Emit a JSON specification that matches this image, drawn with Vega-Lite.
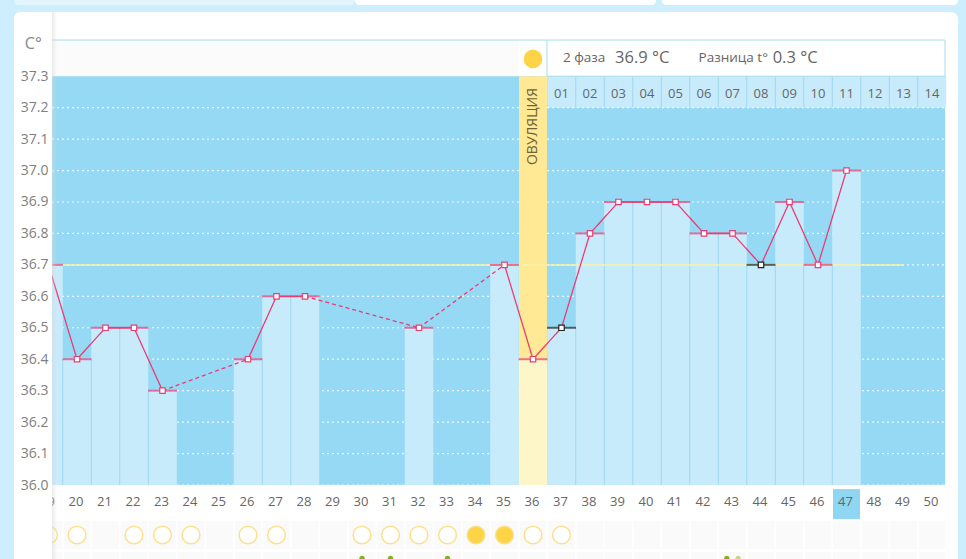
{
  "$schema": "https://vega.github.io/schema/vega-lite/v6.json",
  "width": 966,
  "height": 559,
  "padding": 0,
  "autosize": "none",
  "background": "#cdeefc",
  "config": {"view": {"stroke": null}, "font": "Open Sans"},
  "resolve": {"scale": {"color": "independent"}},
  "datasets": {
    "temps": [
      {"day": 19, "temp": 36.7, "kind": "normal"},
      {"day": 20, "temp": 36.4, "kind": "normal"},
      {"day": 21, "temp": 36.5, "kind": "normal"},
      {"day": 22, "temp": 36.5, "kind": "normal"},
      {"day": 23, "temp": 36.3, "kind": "normal"},
      {"day": 26, "temp": 36.4, "kind": "normal"},
      {"day": 27, "temp": 36.6, "kind": "normal"},
      {"day": 28, "temp": 36.6, "kind": "normal"},
      {"day": 32, "temp": 36.5, "kind": "normal"},
      {"day": 35, "temp": 36.7, "kind": "normal"},
      {"day": 36, "temp": 36.4, "kind": "normal"},
      {"day": 37, "temp": 36.5, "kind": "marked"},
      {"day": 38, "temp": 36.8, "kind": "normal"},
      {"day": 39, "temp": 36.9, "kind": "normal"},
      {"day": 40, "temp": 36.9, "kind": "normal"},
      {"day": 41, "temp": 36.9, "kind": "normal"},
      {"day": 42, "temp": 36.8, "kind": "normal"},
      {"day": 43, "temp": 36.8, "kind": "normal"},
      {"day": 44, "temp": 36.7, "kind": "marked"},
      {"day": 45, "temp": 36.9, "kind": "normal"},
      {"day": 46, "temp": 36.7, "kind": "normal"},
      {"day": 47, "temp": 37.0, "kind": "normal"}
    ],
    "segments": [
      {"seg": "a", "style": "solid", "day": 19, "temp": 36.7},
      {"seg": "a", "style": "solid", "day": 20, "temp": 36.4},
      {"seg": "a", "style": "solid", "day": 21, "temp": 36.5},
      {"seg": "a", "style": "solid", "day": 22, "temp": 36.5},
      {"seg": "a", "style": "solid", "day": 23, "temp": 36.3},
      {"seg": "b", "style": "dashed", "day": 23, "temp": 36.3},
      {"seg": "b", "style": "dashed", "day": 26, "temp": 36.4},
      {"seg": "c", "style": "solid", "day": 26, "temp": 36.4},
      {"seg": "c", "style": "solid", "day": 27, "temp": 36.6},
      {"seg": "c", "style": "solid", "day": 28, "temp": 36.6},
      {"seg": "d", "style": "dashed", "day": 28, "temp": 36.6},
      {"seg": "d", "style": "dashed", "day": 32, "temp": 36.5},
      {"seg": "e", "style": "dashed", "day": 32, "temp": 36.5},
      {"seg": "e", "style": "dashed", "day": 35, "temp": 36.7},
      {"seg": "f", "style": "solid", "day": 35, "temp": 36.7},
      {"seg": "f", "style": "solid", "day": 36, "temp": 36.4},
      {"seg": "f", "style": "solid", "day": 37, "temp": 36.5},
      {"seg": "f", "style": "solid", "day": 38, "temp": 36.8},
      {"seg": "f", "style": "solid", "day": 39, "temp": 36.9},
      {"seg": "f", "style": "solid", "day": 40, "temp": 36.9},
      {"seg": "f", "style": "solid", "day": 41, "temp": 36.9},
      {"seg": "f", "style": "solid", "day": 42, "temp": 36.8},
      {"seg": "f", "style": "solid", "day": 43, "temp": 36.8},
      {"seg": "f", "style": "solid", "day": 44, "temp": 36.7},
      {"seg": "f", "style": "solid", "day": 45, "temp": 36.9},
      {"seg": "f", "style": "solid", "day": 46, "temp": 36.7},
      {"seg": "f", "style": "solid", "day": 47, "temp": 37.0}
    ],
    "edges": [
      {"edge": 19.5, "top": 36.4}, {"edge": 20.5, "top": 36.4}, {"edge": 21.5, "top": 36.5},
      {"edge": 22.5, "top": 36.3}, {"edge": 26.5, "top": 36.4}, {"edge": 27.5, "top": 36.6},
      {"edge": 37.5, "top": 36.5}, {"edge": 38.5, "top": 36.8}, {"edge": 39.5, "top": 36.9},
      {"edge": 40.5, "top": 36.9}, {"edge": 41.5, "top": 36.8}, {"edge": 42.5, "top": 36.8},
      {"edge": 43.5, "top": 36.7}, {"edge": 44.5, "top": 36.7}, {"edge": 45.5, "top": 36.7},
      {"edge": 46.5, "top": 36.7}
    ],
    "phase2": [
      {"day": 37, "label": "01"}, {"day": 38, "label": "02"}, {"day": 39, "label": "03"},
      {"day": 40, "label": "04"}, {"day": 41, "label": "05"}, {"day": 42, "label": "06"},
      {"day": 43, "label": "07"}, {"day": 44, "label": "08"}, {"day": 45, "label": "09"},
      {"day": 46, "label": "10"}, {"day": 47, "label": "11"}, {"day": 48, "label": "12"},
      {"day": 49, "label": "13"}, {"day": 50, "label": "14"}
    ],
    "grid": [
      {"temp": 36.0}, {"temp": 36.1}, {"temp": 36.2}, {"temp": 36.3}, {"temp": 36.4},
      {"temp": 36.5}, {"temp": 36.6}, {"temp": 36.7}, {"temp": 36.8}, {"temp": 36.9},
      {"temp": 37.0}, {"temp": 37.1}, {"temp": 37.2}
    ],
    "circles": [
      {"day": 19, "state": "empty"}, {"day": 20, "state": "empty"}, {"day": 22, "state": "empty"},
      {"day": 23, "state": "empty"}, {"day": 24, "state": "empty"}, {"day": 26, "state": "empty"},
      {"day": 27, "state": "empty"}, {"day": 30, "state": "empty"}, {"day": 31, "state": "empty"},
      {"day": 32, "state": "empty"}, {"day": 33, "state": "empty"}, {"day": 34, "state": "full"},
      {"day": 35, "state": "full"}, {"day": 36, "state": "empty"}, {"day": 37, "state": "empty"}
    ],
    "sprouts": [
      {"day": 30, "tone": "dark"}, {"day": 31, "tone": "dark"}, {"day": 33, "tone": "dark"},
      {"day": 42.8, "tone": "dark"}, {"day": 43.2, "tone": "pale"}
    ],
    "allDays": [
      {"day": 19}, {"day": 20}, {"day": 21}, {"day": 22}, {"day": 23}, {"day": 24}, {"day": 25}, {"day": 26},
      {"day": 27}, {"day": 28}, {"day": 29}, {"day": 30}, {"day": 31}, {"day": 32}, {"day": 33}, {"day": 34},
      {"day": 35}, {"day": 36}, {"day": 37}, {"day": 38}, {"day": 39}, {"day": 40}, {"day": 41}, {"day": 42},
      {"day": 43}, {"day": 44}, {"day": 45}, {"day": 46}, {"day": 47}, {"day": 48}, {"day": 49}, {"day": 50}
    ],
    "header": [
      {"day": 37.05, "text": "2 фаза", "fs": "small"},
      {"day": 38.88, "text": "36.9 °C", "fs": "large"},
      {"day": 41.81, "text": "Разница t°", "fs": "small"},
      {"day": 44.41, "text": "0.3 °C", "fs": "large"}
    ]
  },
  "layer": [
    {
      "data": {"values": [{"panel": "card"}]},
      "mark": {"type": "rect", "color": "#ffffff", "cornerRadius": 7},
      "encoding": {
        "x": {
          "datum": 17.789, "type": "quantitative",
          "scale": {"domain": [17.298, 51.193], "nice": false, "zero": false, "padding": 0},
          "axis": {"values": [], "labels": false, "title": null, "domain": false, "ticks": false, "grid": false}
        },
        "x2": {"datum": 50.912},
        "y": {
          "datum": 37.504, "type": "quantitative",
          "scale": {"domain": [35.7647, 37.5423], "nice": false, "zero": false, "padding": 0},
          "axis": {
            "orient": "left", "offset": -48, "values": [36.0,36.1,36.2,36.3,36.4,36.5,36.6,36.7,36.8,36.9,37.0,37.1,37.2,37.3],
            "format": ".1f", "title": null, "domain": false, "ticks": false, "grid": false,
            "labelPadding": 0, "labelFontSize": 14, "labelColor": "#808080",
            "labelOverlap": false, "labelFlush": false, "zindex": 1
          }
        },
        "y2": {"datum": 35.7}
      }
    },
    {
      "data": {"values": [{"panel": "top"}]},
      "mark": {"type": "rect", "color": "#e2f5fd", "cornerRadius": 4},
      "encoding": {
        "x": {"datum": 17.789, "type": "quantitative"}, "x2": {"datum": 29.754},
        "y": {"datum": 37.6, "type": "quantitative"}, "y2": {"datum": 37.5264}
      }
    },
    {
      "data": {"values": [{"panel": "top"}]},
      "mark": {"type": "rect", "color": "#ffffff", "cornerRadius": 4},
      "encoding": {
        "x": {"datum": 29.754, "type": "quantitative"}, "x2": {"datum": 40.316},
        "y": {"datum": 37.6, "type": "quantitative"}, "y2": {"datum": 37.5264}
      }
    },
    {
      "data": {"values": [{"panel": "top"}]},
      "mark": {"type": "rect", "color": "#ffffff", "cornerRadius": 4},
      "encoding": {
        "x": {"datum": 40.526, "type": "quantitative"}, "x2": {"datum": 50.912},
        "y": {"datum": 37.6, "type": "quantitative"}, "y2": {"datum": 37.5264}
      }
    },
    {
      "data": {"values": [{"panel": "header"}]},
      "mark": {"type": "rect", "color": "#fbfbfc"},
      "encoding": {
        "x": {"datum": 19.123, "type": "quantitative"}, "x2": {"datum": 35.474},
        "y": {"datum": 37.415, "type": "quantitative"}, "y2": {"datum": 37.3}
      }
    },
    {
      "data": {"values": [{"panel": "header"}]},
      "mark": {"type": "rule", "color": "#a8dcea", "strokeWidth": 1},
      "encoding": {
        "x": {"datum": 19.123, "type": "quantitative"}, "x2": {"datum": 36.491},
        "y": {"datum": 37.415, "type": "quantitative"}
      }
    },
    {
      "data": {"values": [{"panel": "plot"}]},
      "mark": {"type": "rect", "color": "#95d9f5"},
      "encoding": {
        "x": {"datum": 19.123, "type": "quantitative"}, "x2": {"datum": 50.456},
        "y": {"datum": 37.3, "type": "quantitative"}, "y2": {"datum": 36.0}
      }
    },
    {
      "data": {"name": "phase2"},
      "mark": {"type": "bar", "size": 28.5, "color": "#c8ebfc"},
      "encoding": {
        "x": {"field": "day", "type": "quantitative"},
        "y": {"datum": 37.3, "type": "quantitative"}, "y2": {"datum": 37.2}
      }
    },
    {
      "data": {"name": "grid"},
      "mark": {"type": "rule", "color": "#ffffff", "strokeWidth": 1.2, "strokeDash": [2, 3], "opacity": 0.85},
      "encoding": {
        "x": {"datum": 19.123, "type": "quantitative"}, "x2": {"datum": 50.456},
        "y": {"field": "temp", "type": "quantitative"}
      }
    },
    {
      "data": {"name": "temps"},
      "mark": {"type": "bar", "size": 28.5},
      "encoding": {
        "x": {"field": "day", "type": "quantitative"},
        "y": {"field": "temp", "type": "quantitative"}, "y2": {"datum": 36.0},
        "color": {"condition": {"test": "datum.day === 36", "value": "#fdf6c8"}, "value": "#c8ebfc"}
      }
    },
    {
      "data": {"values": [{"day": 36}]},
      "mark": {"type": "bar", "size": 28, "color": "#ffe994"},
      "encoding": {
        "x": {"field": "day", "type": "quantitative"},
        "y": {"datum": 37.3, "type": "quantitative"}, "y2": {"datum": 36.4}
      }
    },
    {
      "data": {"name": "edges"},
      "mark": {"type": "rule", "color": "#9fd8f0", "strokeWidth": 1},
      "encoding": {
        "x": {"field": "edge", "type": "quantitative"},
        "y": {"field": "top", "type": "quantitative"}, "y2": {"datum": 36.0}
      }
    },
    {
      "data": {"values": [{"edge": 37.5}, {"edge": 38.5}, {"edge": 39.5}, {"edge": 40.5}, {"edge": 41.5}, {"edge": 42.5}, {"edge": 43.5}, {"edge": 44.5}, {"edge": 45.5}, {"edge": 46.5}, {"edge": 47.5}, {"edge": 48.5}, {"edge": 49.5}]},
      "mark": {"type": "rule", "color": "#9fd8f0", "strokeWidth": 1},
      "encoding": {
        "x": {"field": "edge", "type": "quantitative"},
        "y": {"datum": 37.3, "type": "quantitative"}, "y2": {"datum": 37.2}
      }
    },
    {
      "data": {"values": [{"panel": "headerBox"}]},
      "mark": {"type": "rect", "fill": "#ffffff", "stroke": "#a8dcea", "strokeWidth": 1},
      "encoding": {
        "x": {"datum": 36.491, "type": "quantitative"}, "x2": {"datum": 50.456},
        "y": {"datum": 37.415, "type": "quantitative"}, "y2": {"datum": 37.3}
      }
    },
    {
      "data": {"values": [{"day": 36}]},
      "mark": {"type": "point", "filled": true, "color": "#fdd446", "size": 346, "opacity": 1},
      "encoding": {
        "x": {"field": "day", "type": "quantitative"},
        "y": {"datum": 37.355, "type": "quantitative"}
      }
    },
    {
      "data": {"name": "header"},
      "mark": {"type": "text", "align": "left", "baseline": "middle", "color": "#666666"},
      "encoding": {
        "x": {"field": "day", "type": "quantitative"},
        "y": {"datum": 37.358, "type": "quantitative"},
        "text": {"field": "text"},
        "size": {"field": "fs", "type": "nominal", "scale": {"domain": ["small", "large"], "range": [13.5, 16.5]}, "legend": null}
      }
    },
    {
      "data": {"values": [{"day": 36, "text": "ОВУЛЯЦИЯ"}]},
      "mark": {"type": "text", "angle": 270, "fontSize": 14, "color": "#6f6238", "baseline": "middle"},
      "encoding": {
        "x": {"field": "day", "type": "quantitative"},
        "y": {"datum": 37.14, "type": "quantitative"},
        "text": {"field": "text"}
      }
    },
    {
      "data": {"name": "phase2"},
      "mark": {"type": "text", "fontSize": 13, "color": "#666666", "baseline": "middle"},
      "encoding": {
        "x": {"field": "day", "type": "quantitative"},
        "y": {"datum": 37.243, "type": "quantitative"},
        "text": {"field": "label"}
      }
    },
    {
      "data": {"values": [{"day": 47}]},
      "mark": {"type": "bar", "size": 27, "color": "#8fd6f3"},
      "encoding": {
        "x": {"field": "day", "type": "quantitative"},
        "y": {"datum": 35.987, "type": "quantitative"}, "y2": {"datum": 35.892}
      }
    },
    {
      "data": {"name": "allDays"},
      "mark": {"type": "text", "fontSize": 13, "color": "#666666", "baseline": "middle", "dx": -1},
      "encoding": {
        "x": {"field": "day", "type": "quantitative"},
        "y": {"datum": 35.946, "type": "quantitative"},
        "text": {"field": "day", "type": "quantitative", "format": "d"}
      }
    },
    {
      "data": {"name": "allDays"},
      "mark": {"type": "bar", "size": 27, "color": "#fafafa"},
      "encoding": {
        "x": {"field": "day", "type": "quantitative"},
        "y": {"datum": 35.8855, "type": "quantitative"}, "y2": {"datum": 35.7965}
      }
    },
    {
      "data": {"name": "allDays"},
      "mark": {"type": "bar", "size": 27, "color": "#fafafa"},
      "encoding": {
        "x": {"field": "day", "type": "quantitative"},
        "y": {"datum": 35.787, "type": "quantitative"}, "y2": {"datum": 35.7}
      }
    },
    {
      "data": {"name": "circles"},
      "mark": {"type": "point", "filled": true, "size": 314, "opacity": 1, "stroke": "#fbe08f", "strokeWidth": 1.5},
      "encoding": {
        "x": {"field": "day", "type": "quantitative"},
        "y": {"datum": 35.841, "type": "quantitative"},
        "fill": {"field": "state", "type": "nominal", "scale": {"domain": ["empty", "full"], "range": ["#ffffff", "#fdd446"]}, "legend": null}
      }
    },
    {
      "data": {"name": "sprouts"},
      "mark": {"type": "point", "filled": true, "size": 28, "opacity": 1},
      "encoding": {
        "x": {"field": "day", "type": "quantitative"},
        "y": {"datum": 35.767, "type": "quantitative"},
        "color": {"field": "tone", "type": "nominal", "scale": {"domain": ["dark", "pale"], "range": ["#84b21a", "#c5d98a"]}, "legend": null}
      }
    },
    {
      "data": {"values": [{"mean": 36.7}]},
      "mark": {"type": "rule", "color": "#f8f3a6", "strokeWidth": 1.5},
      "encoding": {
        "x": {"datum": 19.123, "type": "quantitative"}, "x2": {"datum": 49},
        "y": {"field": "mean", "type": "quantitative"}
      }
    },
    {
      "data": {"name": "segments"},
      "mark": {"type": "line", "color": "#ea3c74", "strokeWidth": 1.3},
      "encoding": {
        "x": {"field": "day", "type": "quantitative"},
        "y": {"field": "temp", "type": "quantitative"},
        "detail": {"field": "seg"},
        "strokeDash": {"field": "style", "type": "nominal", "scale": {"domain": ["solid", "dashed"], "range": [[1, 0], [4, 3]]}, "legend": null}
      }
    },
    {
      "data": {"name": "temps"},
      "mark": {"type": "tick", "orient": "horizontal", "size": 29, "thickness": 2},
      "encoding": {
        "x": {"field": "day", "type": "quantitative"},
        "y": {"field": "temp", "type": "quantitative"},
        "color": {"field": "kind", "type": "nominal", "scale": {"domain": ["normal", "marked"], "range": ["#ea3c74", "#222222"]}, "legend": null}
      }
    },
    {
      "data": {"name": "temps"},
      "mark": {"type": "point", "shape": "square", "filled": true, "fill": "#ffffff", "size": 30, "strokeWidth": 1.2, "opacity": 1},
      "encoding": {
        "x": {"field": "day", "type": "quantitative"},
        "y": {"field": "temp", "type": "quantitative"},
        "stroke": {"field": "kind", "type": "nominal", "scale": {"domain": ["normal", "marked"], "range": ["#ea3c74", "#222222"]}, "legend": null}
      }
    },
    {
      "data": {"values": [{"day": 27.02, "temp": 36.0445}]},
      "mark": {"type": "point", "filled": true, "color": "#f0921a", "size": 440, "opacity": 1, "shape": "M-0.3,-0.5 A0.5,0.5 0 1 0 0.5,0.2 A0.42,0.42 0 0 1 -0.3,-0.5 Z"},
      "encoding": {
        "x": {"field": "day", "type": "quantitative"},
        "y": {"field": "temp", "type": "quantitative"}
      }
    },
    {
      "data": {"values": [{"panel": "axisPanel"}]},
      "mark": {"type": "rect", "color": "#ffffff", "cornerRadius": 6},
      "encoding": {
        "x": {"datum": 17.789, "type": "quantitative"}, "x2": {"datum": 19.123},
        "y": {"datum": 37.504, "type": "quantitative"}, "y2": {"datum": 35.7}
      }
    },
    {
      "data": {"values": [{"panel": "axisShadow"}]},
      "mark": {
        "type": "rect",
        "color": {"x1": 0, "y1": 0, "x2": 1, "y2": 0, "gradient": "linear", "stops": [{"offset": 0, "color": "#d8d8d8"}, {"offset": 1, "color": "rgba(216,216,216,0)"}]},
        "opacity": 0.5
      },
      "encoding": {
        "x": {"datum": 19.123, "type": "quantitative"}, "x2": {"datum": 19.298},
        "y": {"datum": 37.504, "type": "quantitative"}, "y2": {"datum": 35.7}
      }
    },
    {
      "data": {"values": [{"unit": "C°"}]},
      "mark": {"type": "text", "fontSize": 16, "color": "#888888", "align": "left", "baseline": "middle"},
      "encoding": {
        "x": {"datum": 18.17, "type": "quantitative"},
        "y": {"datum": 37.402, "type": "quantitative"},
        "text": {"field": "unit"}
      }
    }
  ]
}
